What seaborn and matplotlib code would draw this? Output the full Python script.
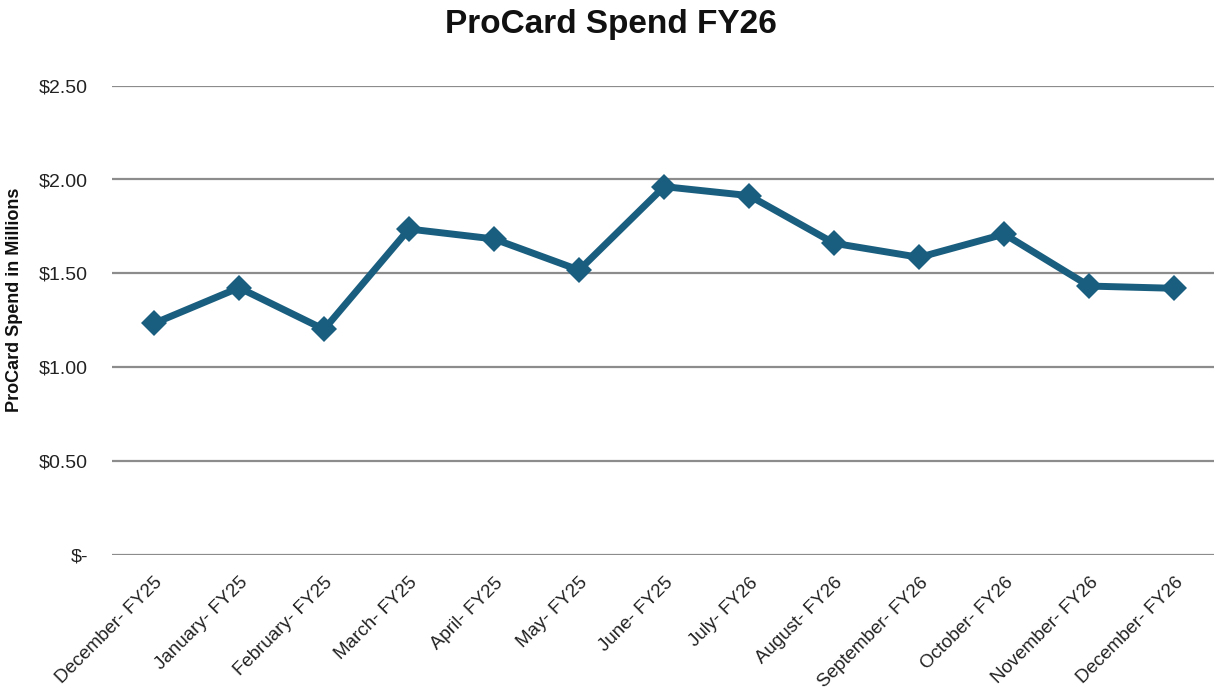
import matplotlib
matplotlib.use("Agg")
import matplotlib.pyplot as plt
import matplotlib.transforms as mtransforms
import seaborn as sns
import pandas as pd

months = ["December- FY25", "January- FY25", "February- FY25", "March- FY25",
          "April- FY25", "May- FY25", "June- FY25", "July- FY26", "August- FY26",
          "September- FY26", "October- FY26", "November- FY26", "December- FY26"]
spend_millions = [1.233, 1.423, 1.201, 1.736, 1.683, 1.517, 1.962,
                  1.914, 1.660, 1.585, 1.709, 1.432, 1.420]
y_ticks = [0.0, 0.5, 1.0, 1.5, 2.0, 2.5]
y_tick_labels = ["$-", "$0.50", "$1.00", "$1.50", "$2.00", "$2.50"]

sns.set_theme(style="white")
plt.rcParams["font.family"] = ["Liberation Sans", "DejaVu Sans"]

df = pd.DataFrame({"pos": range(len(months)), "spend": spend_millions})

W, H = 1214, 692
fig = plt.figure(figsize=(W / 100, H / 100), dpi=100)
# axes box in pixel terms: left 111.5, right 1214, top 85.7, bottom 554.7
ax = fig.add_axes([111.5 / W, (H - 554.7) / H, (W - 111.5) / W, (554.7 - 85.7) / H])

for y in y_ticks:
    ax.axhline(y, color="#8c8c8c", lw=1.6, zorder=0)

sns.lineplot(data=df, x="pos", y="spend", ax=ax, color="#1a5e7f", lw=5,
             marker="D", markersize=13, markeredgecolor="#1a5e7f",
             markeredgewidth=0, zorder=3)

ax.set_ylim(0, 2.5)
ax.set_xlim(-0.5, (W - 154.3) / 85.0)
ax.set_yticks(y_ticks)
ax.set_yticklabels(y_tick_labels, fontsize=14, color="#222222")
ax.set_xticks(range(len(months)))
ax.set_xticklabels(months, rotation=45, ha="right", rotation_mode="anchor",
                   fontsize=13.5, color="#222222")
# nudge the slanted month labels a little to the left
shift = mtransforms.ScaledTranslation(-5 / 100, 0, fig.dpi_scale_trans)
for lbl in ax.get_xticklabels():
    lbl.set_transform(lbl.get_transform() + shift)
ax.tick_params(axis="y", pad=17, length=0)
ax.tick_params(axis="x", pad=14, length=0)
for s in ax.spines.values():
    s.set_visible(False)
ax.set_xlabel("")
ax.set_ylabel("ProCard Spend in Millions", fontsize=13, fontweight="bold",
              color="#111111")
ax.yaxis.set_label_coords(-(111.5 - 23) / (W - 111.5), (554.7 - 300) / (554.7 - 85.7))

fig.text(611 / W, 1 - 24 / H, "ProCard Spend FY26", ha="center", va="center",
         fontsize=24, fontweight="bold", color="#111111")

fig.savefig("out.png", dpi=100, facecolor="white")
